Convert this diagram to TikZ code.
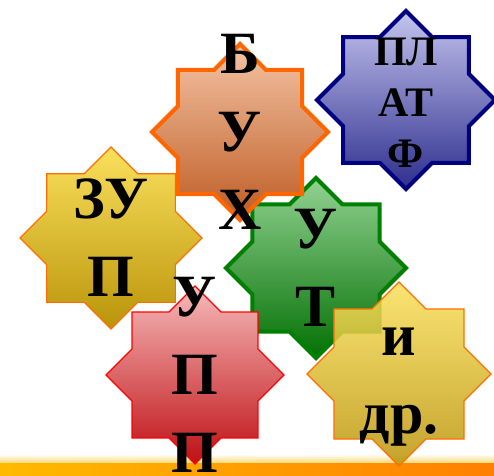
\documentclass[tikz,border=0pt]{standalone}
\usepackage{fontspec}
\setmainfont{Liberation Serif}
\usepackage{xcolor}
\usetikzlibrary{shapes.geometric}

\definecolor{goldtop}{RGB}{250,224,92}
\definecolor{goldbot}{RGB}{186,148,10}
\definecolor{goldrim}{RGB}{255,110,0}
\definecolor{coppertop}{RGB}{244,196,165}
\definecolor{copperbot}{RGB}{190,92,36}
\definecolor{copperrim}{RGB}{255,102,0}
\definecolor{navytop}{RGB}{196,196,238}
\definecolor{navybot}{RGB}{46,46,142}
\definecolor{navyrim}{RGB}{0,0,128}
\definecolor{leaftop}{RGB}{146,210,146}
\definecolor{leafbot}{RGB}{4,112,4}
\definecolor{leafrim}{RGB}{0,128,0}
\definecolor{rosetop}{RGB}{246,186,186}
\definecolor{rosebot}{RGB}{190,16,20}
\definecolor{barleft}{RGB}{255,186,0}
\definecolor{barright}{RGB}{255,128,0}

\begin{document}
\begin{tikzpicture}[x=1pt, y=-1pt,
    octo/.style={star, star points=8, star point ratio=1.3066, inner sep=0pt},
    goldstar/.style={octo, draw=goldrim, line width=1.2pt, top color=goldtop, bottom color=goldbot},
    copperstar/.style={octo, draw=copperrim, line width=4pt, top color=coppertop, bottom color=copperbot},
    navystar/.style={octo, draw=navyrim, line width=4pt, top color=navytop, bottom color=navybot},
    leafstar/.style={octo, draw=leafrim, line width=4pt, top color=leaftop, bottom color=leafbot},
    rosestar/.style={octo, draw=red, line width=1.2pt, top color=rosetop, bottom color=rosebot},
    word/.style={font=\bfseries\fontsize{60}{78}\selectfont, align=center, inner sep=0pt},
    smallword/.style={font=\bfseries\fontsize{42}{51}\selectfont, align=center, inner sep=0pt}]

    \useasboundingbox (0,0) rectangle (494,475);

    % orange strip at the bottom
    \shade[top color=white, bottom color=barleft!55] (0,454) rectangle (494,463);
    \shade[left color=barleft, right color=barright] (0,463) rectangle (494,475);

    \node [goldstar, minimum size=182pt] (zup) at (111,238) {};
    \node [word] (zuptext) at (zup) {ЗУ\\П};

    \node [leafstar, minimum size=180pt] (ut) at (316,268) {};
    \node [word] (uttext) at (ut) {У\\Т};

    \node [copperstar, minimum size=176pt] (buh) at (240,132) {};
    \node [word] (buhtext) at (buh) {Б\\У\\Х};

    \node [navystar, minimum size=178pt] (plat) at (406,100) {};
    \node [smallword, yshift=-3pt] (plattext) at (plat) {ПЛ\\АТ\\Ф};

    \node [rosestar, minimum size=178pt] (upp) at (195,375) {};
    \node [word] (upptext) at (upp) {У\\П\\П};

    \node [goldstar, fill opacity=0.86, minimum size=184pt] (idr) at (399,374) {};
    \node [word, yshift=-13pt] (idrtext) at (idr) {и\\др.};
\end{tikzpicture}
\end{document}
